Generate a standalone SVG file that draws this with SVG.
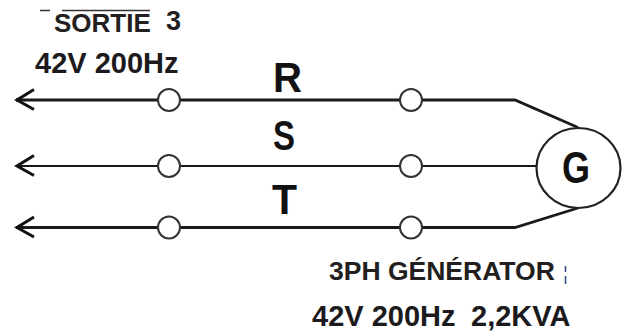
<svg xmlns="http://www.w3.org/2000/svg" width="629" height="335" viewBox="0 0 629 335">
<style>
text{font-family:"Liberation Sans",Arial,sans-serif;font-weight:bold;fill:#231f20}
.wire{fill:none;stroke:#1a1a1a;stroke-width:2.800}
.thin{stroke-width:2}
.term{fill:#fff;stroke:#333;stroke-width:2}
.big{font-size:42px;fill:#111}
.mid{font-size:29px;fill:#1c1a1c}
.gen{font-size:26.500px}
.frag{fill:none;stroke:#333;stroke-width:1.500}
</style>
<defs>
<path id="ah" d="M34 89.500L17 100L34 109.500" fill="none" stroke="#111" stroke-width="3"/>
</defs>
<rect width="629" height="335" fill="#fff"/>
<g id="connectors">
<path class="wire" d="M16 100H515L578 127.500"/>
<path class="wire thin" d="M16 166H537"/>
<path class="wire" d="M16 227.500H515L578 208"/>
<use href="#ah"/>
<use href="#ah" y="66"/>
<use href="#ah" y="127.500"/>
</g>
<g id="terminal-r1"><circle class="term" cx="169" cy="100" r="11"/></g>
<g id="terminal-s1"><circle class="term" cx="169" cy="166" r="11"/></g>
<g id="terminal-t1"><circle class="term" cx="169" cy="227.500" r="11"/></g>
<g id="terminal-r2"><circle class="term" cx="411" cy="100" r="11"/></g>
<g id="terminal-s2"><circle class="term" cx="411" cy="166" r="11"/></g>
<g id="terminal-t2"><circle class="term" cx="411" cy="227.500" r="11"/></g>
<g id="generator">
<ellipse cx="578.500" cy="168" rx="42" ry="40" fill="#fff" stroke="#222" stroke-width="2.200"/>
<text x="562" y="182.500" textLength="28" lengthAdjust="spacingAndGlyphs" style="font-size:44px;fill:#111">G</text>
</g>
<g id="labels">
<path class="frag" d="M40 10.500H50M62 10.500H150"/>
<text x="54" y="32" style="font-size:26px">SORTIE</text>
<text x="166" y="30" style="font-size:27px">3</text>
<text class="mid" x="35" y="73">42V 200Hz</text>
<text class="big" x="273" y="92" textLength="29" lengthAdjust="spacingAndGlyphs">R</text>
<text class="big" x="273" y="150" textLength="22" lengthAdjust="spacingAndGlyphs">S</text>
<text class="big" x="272" y="214" textLength="25" lengthAdjust="spacingAndGlyphs">T</text>
<text class="gen" x="329" y="280">3PH GÉNÉRATOR</text>
<path d="M565.500 266V272M565.500 276V284" fill="none" stroke="#2a4a80" stroke-width="1.500"/>
<text class="mid" x="312" y="326">42V 200Hz</text>
<text class="mid" x="471" y="326">2,2KVA</text>
</g>
</svg>
